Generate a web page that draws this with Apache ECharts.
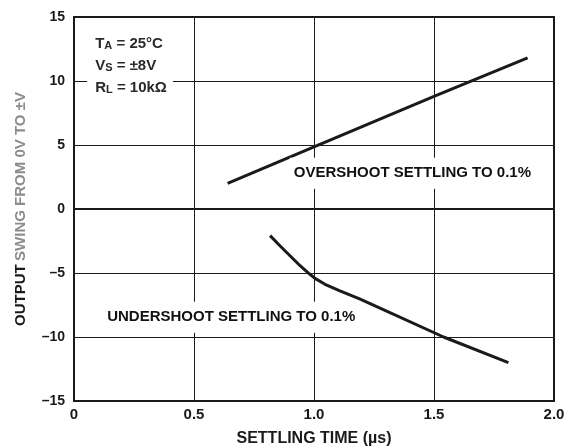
<!DOCTYPE html>
<html>
<head>
<meta charset="utf-8">
<script src="https://cdn.jsdelivr.net/npm/echarts@6/dist/echarts.min.js"></script>
<style>
  html, body { margin: 0; padding: 0; background: #fff; }
  #main { width: 574px; height: 448px; }
</style>
</head>
<body>
<div id="main"></div>
<script>
// settling time (µs) vs output swing (V)
const overshootTime = [0.64, 1.0, 1.5, 1.89]
const overshootSwing = [2.0, 4.85, 8.8, 11.8]

const undershootTime = [0.817, 0.858, 0.9, 0.942, 0.983, 1.004, 1.046, 1.108, 1.19, 1.275, 1.54, 1.81]
const undershootSwing = [-2.08, -2.87, -3.65, -4.43, -5.1, -5.42, -5.88, -6.4, -7.03, -7.75, -10.0, -12.0]

const xTicks = [0, 0.5, 1.0, 1.5, 2.0]
const yTicks = [-15, -10, -5, 0, 5, 10, 15]

// label anchors [x, y, text]
const curveLabels = [
  [1.41, 2.8, 'OVERSHOOT SETTLING TO 0.1%'],
  [0.655, -8.45, 'UNDERSHOOT SETTLING TO 0.1%']
]
const conditionsPos = [0.055, 11.45]

const zip = (a, b) => a.map((v, i) => [v, b[i]])
const ink = '#1a1a1a'
const font = 'Liberation Sans, Arial, Helvetica, sans-serif'

const chartBox = echarts.init(document.getElementById('main'))
const option = {
  animation: false,
  grid: {
    left: 74,
    right: 20,
    top: 17,
    bottom: 47,
    outerBoundsMode: 'none',
    containLabel: false,
    show: true,
    borderColor: ink,
    borderWidth: 2,
    backgroundColor: 'transparent'
  },
  xAxis: {
    type: 'value',
    min: xTicks[0],
    max: xTicks[xTicks.length - 1],
    interval: 0.5,
    name: 'SETTLING TIME (\u00b5s)',
    nameLocation: 'middle',
    nameGap: 30,
    nameTextStyle: { fontFamily: font, fontWeight: 'bold', fontSize: 16, color: ink },
    axisLine: { show: true, lineStyle: { color: ink, width: 2 } },
    axisTick: { show: false },
    splitLine: { show: true, lineStyle: { color: ink, width: 1 } },
    axisLabel: {
      margin: 6,
      fontFamily: font,
      fontWeight: 'bold',
      fontSize: 15,
      color: ink,
      formatter: v => (v === 0 ? '0' : v.toFixed(1))
    }
  },
  yAxis: {
    type: 'value',
    min: yTicks[0],
    max: yTicks[yTicks.length - 1],
    interval: 5,
    name: '{b|OUTPUT} {g|SWING FROM 0V TO \u00b1V}',
    nameLocation: 'middle',
    nameGap: 46,
    nameTextStyle: {
      rich: {
        b: { fontFamily: font, fontWeight: 'bold', fontSize: 15, color: ink },
        g: { fontFamily: font, fontWeight: 'bold', fontSize: 15, color: '#8c8c8c' }
      }
    },
    axisLine: { show: true, lineStyle: { color: ink, width: 2 } },
    axisTick: { show: false },
    splitLine: { show: true, lineStyle: { color: ink, width: 1 } },
    axisLabel: {
      margin: 9,
      fontFamily: font,
      fontWeight: 'bold',
      fontSize: 14,
      color: ink,
      formatter: v => (v < 0 ? '\u2013' + Math.abs(v) : String(v))
    }
  },
  series: [
    {
      name: 'overshoot',
      type: 'line',
      data: zip(overshootTime, overshootSwing),
      showSymbol: false,
      lineStyle: { color: ink, width: 3 },
      z: 3
    },
    {
      name: 'undershoot',
      type: 'line',
      data: zip(undershootTime, undershootSwing),
      showSymbol: false,
      lineStyle: { color: ink, width: 3, join: 'round' },
      z: 3
    },
    {
      name: 'curveLabels',
      type: 'scatter',
      symbolSize: 0,
      itemStyle: { opacity: 1 },
      data: curveLabels.map(d => ({ value: [d[0], d[1]], name: d[2] })),
      label: {
        show: true,
        position: 'inside',
        formatter: p => p.name,
        fontFamily: font,
        fontWeight: 'bold',
        fontSize: 15,
        color: '#111',
        backgroundColor: '#fff',
        padding: [8, 4]
      },
      z: 4
    },
    {
      name: 'conditions',
      type: 'scatter',
      symbolSize: 0,
      itemStyle: { opacity: 1 },
      data: [{ value: conditionsPos, name: 'cond' }],
      label: {
        show: true,
        position: 'right',
        distance: 0,
        align: 'left',
        backgroundColor: '#fff',
        padding: [2, 6, 2, 8],
        formatter: '{m|T}{s|A}{m| = 25\u00b0C}\n{m|V}{s|S}{m| = \u00b18V}\n{m|R}{s|L}{m| = 10k\u03a9}',
        rich: {
          m: { fontFamily: font, fontWeight: 'bold', fontSize: 15, color: '#2a2a2a', lineHeight: 22, verticalAlign: 'bottom' },
          s: { fontFamily: font, fontWeight: 'bold', fontSize: 11, color: '#2a2a2a', lineHeight: 12, verticalAlign: 'bottom' }
        }
      },
      z: 4
    }
  ]
}
chartBox.setOption(option)
</script>
</body>
</html>
